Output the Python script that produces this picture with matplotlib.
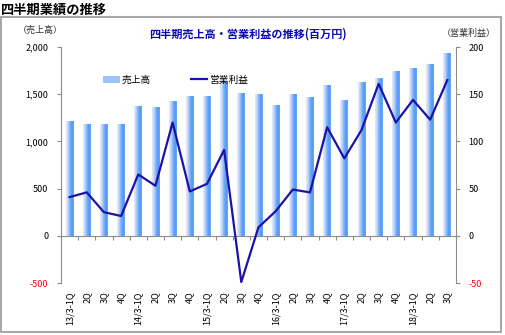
import matplotlib
matplotlib.use("Agg")
import matplotlib.pyplot as plt
import numpy as np
from matplotlib.colors import LinearSegmentedColormap
from matplotlib.patches import Rectangle
from matplotlib.lines import Line2D

plt.rcParams['font.family'] = ['Noto Sans CJK JP', 'DejaVu Sans']

# Data
quarters = ["13/3-1Q", "2Q", "3Q", "4Q",
            "14/3-1Q", "2Q", "3Q", "4Q",
            "15/3-1Q", "2Q", "3Q", "4Q",
            "16/3-1Q", "2Q", "3Q", "4Q",
            "17/3-1Q", "2Q", "3Q", "4Q",
            "18/3-1Q", "2Q", "3Q"]
sales = [1212, 1177, 1177, 1184, 1371, 1364, 1427, 1477, 1477, 1631, 1508, 1498,
         1385, 1498, 1462, 1599, 1434, 1625, 1667, 1741, 1773, 1815, 1936]
profit = [41, 46, 25, 21, 65, 53, 120, 47, 55, 91, -49, 9,
          26, 49, 46, 115, 82, 112, 161, 120, 144, 123, 165]
left_ticks = [-500, 0, 500, 1000, 1500, 2000]
right_ticks = [-50, 0, 50, 100, 150, 200]

GRAY = "#8c8c8c"
LINE_COLOR = "#1c12a8"
bar_cmap = LinearSegmentedColormap.from_list(
    "bar", ["#e8ebf7", "#c4d6f6", "#7ab2fb", "#4f99f8", "#6aa8fa"])

fig = plt.figure(figsize=(5.05, 3.35), dpi=100)
ax = fig.add_axes([0.1208, 0.1552, 0.782, 0.7045])
ax2 = ax.twinx()

x = np.arange(len(quarters))
ymin, ymax = left_ticks[0], left_ticks[-1]

# Bars with horizontal gradient
grad = np.linspace(0, 1, 64).reshape(1, -1)
bw = 0.45
for xi, v in zip(x, sales):
    ax.imshow(grad, extent=(xi - bw / 2, xi + bw / 2, 0, v), aspect="auto",
              cmap=bar_cmap, interpolation="bilinear", zorder=2)

ax.set_xlim(-0.5, len(quarters) - 0.5)
ax.set_ylim(ymin, ymax)
ax2.set_ylim(right_ticks[0], right_ticks[-1])

# Profit line
ax2.plot(x, profit, color=LINE_COLOR, lw=1.6, zorder=3)

# Spines
for a in (ax, ax2):
    a.spines["top"].set_visible(False)
    a.spines["bottom"].set_visible(False)
    a.spines["left"].set_color(GRAY)
    a.spines["right"].set_color(GRAY)
ax.spines["right"].set_visible(False)
ax2.spines["left"].set_visible(False)

# Y ticks
ax.set_yticks(left_ticks, [f"{t:,}" for t in left_ticks])
ax2.set_yticks(right_ticks, [f"{t}" for t in right_ticks])
ax.tick_params(axis="y", direction="out", length=3, color=GRAY, labelsize=6.5, pad=6)
ax2.tick_params(axis="y", direction="out", length=3, color=GRAY, labelsize=6.5, pad=6)
ax.get_yticklabels()[0].set_color("red")
ax2.get_yticklabels()[0].set_color("red")

# X labels at the bottom
ax.set_xticks(x, quarters, rotation=90)
ax.tick_params(axis="x", length=0, labelsize=6.5, pad=6)

# Category axis drawn at zero
zero_pos = (0 - ymin) / (ymax - ymin)
sec = ax.secondary_xaxis(zero_pos)
sec.set_xticks(np.arange(len(quarters) + 1) - 0.5, labels=[])
sec.tick_params(direction="out", length=3, color=GRAY)
sec.spines["bottom"].set_color(GRAY)

# Legend
handles = [Rectangle((0, 0), 1, 1, facecolor="#9cc4f8", edgecolor="none"),
           Line2D([], [], color=LINE_COLOR, lw=1.6)]
ax.legend(handles, ["売上高", "営業利益"], ncol=2, frameon=False,
          loc="upper left", bbox_to_anchor=(0.085, 0.92), fontsize=7,
          handlelength=1.7, handletextpad=0.2, columnspacing=4.1)

# Texts
fig.text(0.002, 0.99, "四半期業績の推移", fontsize=9.5, fontweight="bold", va="top", ha="left")
fig.text(0.49, 0.898, "四半期売上高・営業利益の推移(百万円)", fontsize=8,
         fontweight="bold", color="#0a0ab4", ha="center", va="center")
fig.text(0.08, 0.91, "（売上高）", fontsize=6.5, color="#333333", ha="center", va="center")
fig.text(0.928, 0.9, "（営業利益）", fontsize=6.5, color="#333333", ha="center", va="center")

# Outer frame
fig.add_artist(Rectangle((0.002, 0.009), 0.99, 0.94, transform=fig.transFigure,
                         fill=False, edgecolor="#a8a8a8", lw=1.5))

fig.savefig("out.png", dpi=100)
